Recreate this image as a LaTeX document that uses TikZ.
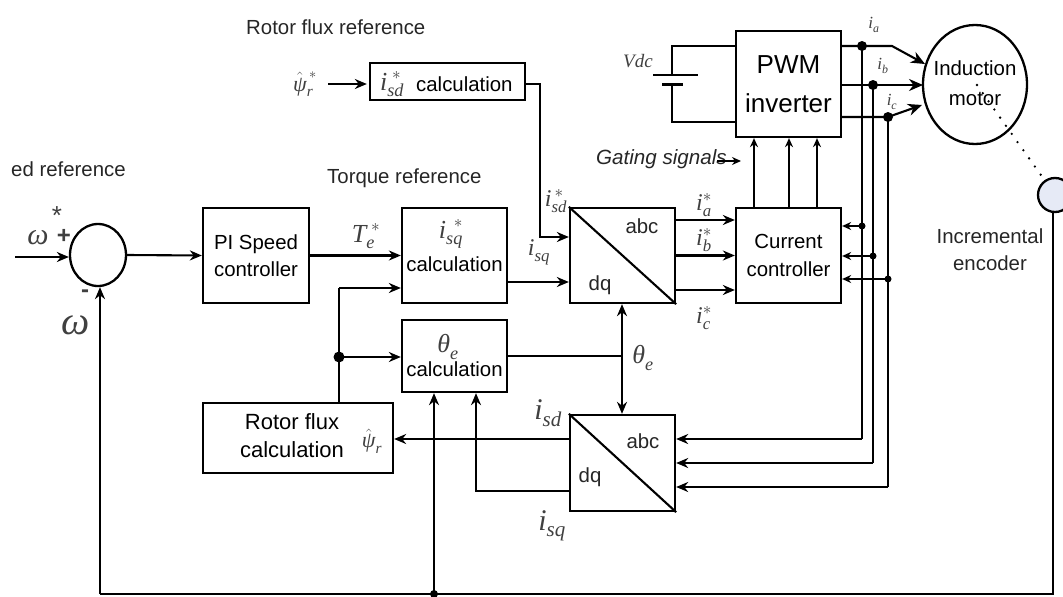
\documentclass[tikz,border=0pt]{standalone}
\usepackage{amsmath}
\usepackage{fontspec}
\setmainfont{Liberation Sans}
\newfontfamily\timesf{Liberation Serif}
\usetikzlibrary{shapes.geometric,arrows.meta}
\newcommand{\sig}[3]{$\text{\timesf\itshape #1}_{\text{\timesf\itshape #2}}^{#3}$}
\newcommand{\fs}[1]{\fontsize{#1}{#1}\selectfont}
\definecolor{encblue}{HTML}{E6EAF6}
\tikzset{
    block/.style={draw, line width=2.3pt, inner sep=0pt, align=center, font=\fs{20.4}},
    wire/.style={line width=2.1pt},
    thinwire/.style={line width=1.4pt},
    lead/.style={wire, -{Stealth[length=12pt,width=10pt]}},
    smalllead/.style={thinwire, -{Stealth[length=9pt,width=8pt]}},
    biglead/.style={wire, -{Stealth[length=14pt,width=12pt]}},
    dot/.style={circle, fill=black, inner sep=0pt, minimum size=10pt},
    txt/.style={inner sep=0pt, align=center, font=\fs{20.4}, text=black!85},
    sym/.style={inner sep=0pt, text=black!75}
}
\begin{document}
\begin{tikzpicture}[x=1pt, y=-1pt]
    \clip (0,0) rectangle (1063,597);
    % blocks
    \node[block, minimum width=56pt, minimum height=62pt, ellipse] (sum) at (98,255) {};
    \node[block, minimum width=106pt, minimum height=95pt] (pi) at (256,255.5) {PI Speed\\[7pt]controller};
    \node[block, minimum width=105pt, minimum height=95pt] (isq) at (454.5,255.5) {};
    \node[block, minimum width=105pt, minimum height=72pt] (theta) at (454.5,356) {};
    \node[block, minimum width=190pt, minimum height=70pt] (flux) at (298,438) {};
    \node[block, minimum width=155pt, minimum height=37pt] (isd) at (447.5,81.5) {};
    \node[block, minimum width=105pt, minimum height=95pt] (up) at (622.5,255.5) {};
    \node[block, minimum width=105pt, minimum height=96pt] (low) at (622.5,463) {};
    \node[block, minimum width=105pt, minimum height=95pt] (cc) at (788.5,255.5) {Current\\[8pt]controller};
    \node[block, minimum width=105pt, minimum height=106pt, font=\fs{26}] (pwm) at (788.5,84) {PWM\\[13pt]inverter};
    \node[block, minimum width=104pt, minimum height=119pt, ellipse] (motor) at (975,84.5) {};
    \node[block, minimum width=34pt, minimum height=34pt, circle, fill=encblue] (enc) at (1055,195) {};
    % block texts
    \node[txt, text=black] (isqcalc) at (454.5,264) {calculation};
    \node[txt, text=black] (thetacalc) at (454.5,369) {calculation};
    \node[txt, text=black, font=\fs{22}] (fluxcalc) at (292,436) {Rotor flux\\[6pt]calculation};
    \node[txt, text=black, anchor=west] (isdcalc) at (416,84) {calculation};
    \node[txt, text=black] (motorname) at (975,83) {Induction\\[10pt]motor};
    \node[txt] (abcup) at (642,226) {abc};
    \node[txt] (dqup) at (600,285) {dq};
    \node[txt] (abclow) at (643,441) {abc};
    \node[txt] (dqlow) at (590,477) {dq};
    \draw[wire] (up.north west) -- (up.south east);
    \draw[wire] (low.north west) -- (low.south east);
    % captions
    \node[txt, anchor=west] (flxref) at (246,27) {Rotor flux reference};
    \node[txt, anchor=west] (spdref) at (11,169) {ed reference};
    \node[txt, anchor=west] (trqref) at (327,178) {Torque reference};
    \node[txt, anchor=west, font=\fs{20.6}\itshape] (gating) at (596,159) {Gating signals};
    \node[txt] (encname) at (990,250) {Incremental\\[7pt]encoder};
    % signal labels
    \node[sym, font=\fs{30}\timesf\itshape] (wref) at (38,238) {ω};
    \node[sym, font=\fs{26}] (wstar) at (57,216) {*};
    \node[sym, font=\fs{24}\bfseries] (plus) at (64,236) {+};
    \node[sym, font=\fs{24}\bfseries] (minus) at (85,294) {-};
    \node[sym, font=\fs{40}\timesf\itshape] (wfb) at (76,325) {ω};
    \node[sym, font=\fs{22}] (psiref) at (305,84) {$\hat{\text{\timesf\itshape ψ}}_{\text{\timesf\itshape r}}^{\,*}$};
    \node[sym, font=\fs{22}] (psifb) at (372,441) {$\hat{\text{\timesf\itshape ψ}}_{\text{\timesf\itshape r}}$};
    \node[sym, font=\fs{26}] (tlab) at (366,236) {\sig{T}{e}{\;*}};
    \node[sym, font=\fs{26}] (isqlab) at (451,234) {\sig{i}{sq}{\;\,*}};
    \node[sym, font=\fs{26}] (thetalab) at (448,347) {\sig{θ}{e}{}};
    \node[sym, font=\fs{26}] (isdtop) at (392,84) {\sig{i}{sd}{\;*}};
    \node[sym, font=\fs{24}] (sdlab) at (556,201) {\sig{i}{sd}{\,*}};
    \node[sym, font=\fs{24}] (sqlab) at (539,252) {\sig{i}{sq}{}};
    \node[sym, font=\fs{24}] (ialab) at (704,205) {\sig{i}{a}{*}};
    \node[sym, font=\fs{24}] (iblab) at (704,240) {\sig{i}{b}{*}};
    \node[sym, font=\fs{24}] (iclab) at (704,318) {\sig{i}{c}{*}};
    \node[sym, font=\fs{26}] (thlab) at (643,358) {\sig{θ}{e}{}};
    \node[sym, font=\fs{30}] (sdlow) at (548,413) {\sig{i}{sd}{}};
    \node[sym, font=\fs{30}] (sqlow) at (552,526) {\sig{i}{sq}{}};
    \node[sym, font=\fs{17}] (ia) at (874,25) {\sig{i}{a}{}};
    \node[sym, font=\fs{17}] (ib) at (883,66) {\sig{i}{b}{}};
    \node[sym, font=\fs{17}] (ic) at (892,102) {\sig{i}{c}{}};
    \node[sym, font=\fs{19}\timesf\itshape] (vdc) at (638,61) {Vdc};
    % junctions
    \coordinate (inw) at (15,257);
    \coordinate (psiin) at (328,84);
    \coordinate (isdturn) at (540,237);
    \coordinate (fork) at (339,357);
    \coordinate (forktop) at (339,288);
    \coordinate (tap) at (622,356);
    \coordinate (qturn) at (476,491);
    \coordinate (botleft) at (100,594);
    \coordinate (botright) at (1053,594);
    \coordinate (bottap) at (434,594);
    \coordinate (jao) at (862,46);
    \coordinate (jbo) at (873,85);
    \coordinate (jco) at (888,117);
    \coordinate (jai) at (862,226);
    \coordinate (jbi) at (873,256);
    \coordinate (jci) at (888,279);
    \coordinate (jal) at (862,439);
    \coordinate (jbl) at (873,463);
    \coordinate (jcl) at (888,487);
    \coordinate (abend) at (892,46);
    \coordinate (gatearrow) at (741,161);
    \coordinate (gatefrom) at (717,161);
    \coordinate (platea) at (672,75);
    \coordinate (plateb) at (672,84);
    \coordinate (wiretop) at (672,46);
    \coordinate (wirebot) at (672,122);
    % forward path
    \draw[lead] (inw) -- (sum.west |- inw);
    \draw[lead] (sum.east) -- (pi.west);
    \draw[lead] (pi.east) -- (isq.west);
    \draw[lead] (psiin) -- ([xshift=-2pt]isd.west |- psiin);
    \draw[lead] (isd.east |- psiin) -| (isdturn) -- (up.west |- isdturn);
    \draw[lead] ([yshift=-26.5pt]isq.east) -- ([yshift=-26.5pt]up.west);
    \draw[lead] ([yshift=35.5pt]up.east) -- ([yshift=35.5pt]cc.west);
    \draw[lead] (up.east) -- (cc.west);
    \draw[lead] ([yshift=-34.5pt]up.east) -- ([yshift=-34.5pt]cc.west);
    \foreach \gx in {-34.5, 0.5, 28.5}
        \draw[smalllead] ([xshift=\gx pt]cc.north) -- ([xshift=\gx pt]pwm.south);
    \draw[smalllead] (gatefrom) -- (gatearrow);
    % battery
    \draw[thinwire] (pwm.west |- wiretop) -- (wiretop) -- (platea);
    \draw[thinwire] (pwm.west |- wirebot) -- (wirebot) -- (plateb);
    \draw[line width=1.6pt] ([xshift=-19pt]platea) -- ([xshift=26pt]platea);
    \draw[line width=3pt] ([xshift=-10pt]plateb) -- ([xshift=11pt]plateb);
    % motor leads
    \draw[biglead] (pwm.east |- jao) -- (abend) -- (925,64);
    \draw[biglead] (pwm.east |- jbo) -- (923,85);
    \draw[biglead] (pwm.east |- jco) -- (jco) -- (922,105);
    \draw[wire] (jao) -- (jal);
    \draw[wire] (jbo) -- (jbl);
    \draw[wire] (jco) -- (jcl);
    \node[dot] (dota) at (jao) {};
    \node[dot] (dotb) at (jbo) {};
    \node[dot] (dotc) at (jco) {};
    % current feedback
    \draw[smalllead] (jai) -- (cc.east |- jai);
    \draw[smalllead] (jbi) -- (cc.east |- jbi);
    \draw[smalllead] (jci) -- (cc.east |- jci);
    \node[dot, minimum size=7pt] (tapa) at (jai) {};
    \node[dot, minimum size=7pt] (tapb) at (jbi) {};
    \node[dot, minimum size=7pt] (tapc) at (jci) {};
    \draw[lead] (jal) -- (low.east |- jal);
    \draw[lead] (jbl) -- (low.east |- jbl);
    \draw[lead] (jcl) -- (low.east |- jcl);
    % flux and angle
    \draw[lead] (low.west |- 0,439) -- (flux.east |- 0,439);
    \draw[lead] (low.west |- qturn) -- (qturn) -- (qturn |- theta.south);
    \draw[wire] (theta.east |- tap) -- (tap);
    \draw[wire, {Stealth[length=12pt,width=10pt]}-{Stealth[length=12pt,width=10pt]}] (tap |- up.south) -- (tap |- low.north);
    \draw[wire] (flux.north -| fork) -- (fork);
    \draw[lead] (fork) -- (theta.west |- fork);
    \draw[wire] (fork) -- (forktop);
    \draw[lead] (forktop) -- (isq.west |- forktop);
    \node[dot, minimum size=11pt] (forkdot) at (fork) {};
    % speed feedback
    \draw[wire] (enc.south -| botright) -- (botright) -- (botleft);
    \draw[lead] (botleft) -- (botleft |- sum.south);
    \draw[lead] (bottap) -- (bottap |- theta.south);
    \node[dot, minimum size=8pt] (botdot) at (bottap) {};
    % shaft
    \draw[line width=2.6pt, line cap=round, dash pattern=on 0pt off 10pt] (977,85) -- (1043,178);
\end{tikzpicture}
\end{document}
